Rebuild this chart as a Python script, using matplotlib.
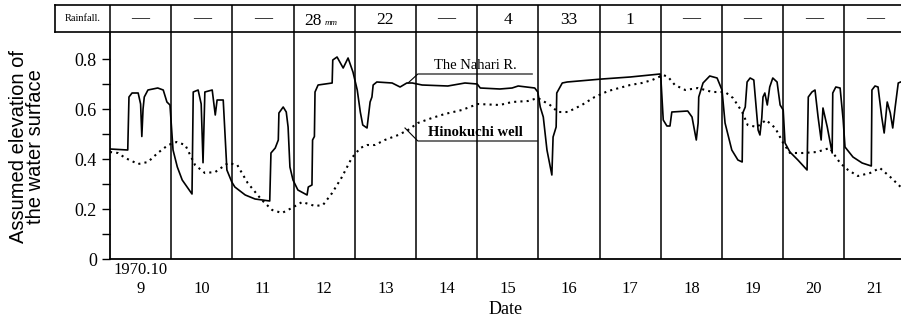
import matplotlib
matplotlib.use("Agg")
import matplotlib.pyplot as plt

# days of October 1970 shown on the chart
days = [9, 10, 11, 12, 13, 14, 15, 16, 17, 18, 19, 20, 21]
rainfall = ["—", "—", "—", "28", "22", "—", "4", "33", "1", "—", "—", "—", "—"]

# The Nahari R. (time in days, elevation)
river_t = [9.00, 9.29, 9.31, 9.36, 9.46, 9.50, 9.52, 9.54, 9.56, 9.62, 9.78, 9.87, 9.93, 9.98,
           10.03, 10.10, 10.18, 10.34, 10.36, 10.44, 10.49, 10.52, 10.55, 10.67, 10.72, 10.75,
           10.85, 10.91, 10.99, 11.04, 11.21, 11.37, 11.61, 11.63, 11.70, 11.75, 11.76, 11.83,
           11.88, 11.91, 11.94, 11.99, 12.07, 12.22, 12.24, 12.30, 12.31, 12.34, 12.35, 12.40,
           12.63, 12.64, 12.71, 12.81, 12.89, 12.97, 13.04, 13.09, 13.13, 13.20, 13.25, 13.28,
           13.30, 13.36, 13.61, 13.74, 13.85, 13.94, 14.10, 14.52, 14.80, 15.00, 15.05, 15.37,
           15.57, 15.67, 15.94, 15.99, 16.03, 16.08, 16.14, 16.22, 16.24, 16.29, 16.30, 16.39,
           16.47, 17.04, 17.50, 17.99, 18.00, 18.04, 18.10, 18.15, 18.18, 18.44, 18.51, 18.58,
           18.61, 18.62, 18.69, 18.80, 18.92, 19.00, 19.05, 19.16, 19.26, 19.33, 19.34, 19.38,
           19.41, 19.46, 19.52, 19.56, 19.59, 19.62, 19.65, 19.67, 19.70, 19.74, 19.78, 19.83,
           19.90, 19.95, 20.00, 20.03, 20.11, 20.24, 20.39, 20.41, 20.47, 20.52, 20.57, 20.62,
           20.65, 20.72, 20.80, 20.81, 20.86, 20.93, 20.96, 20.98, 21.01, 21.14, 21.29, 21.44,
           21.45, 21.50, 21.55, 21.61, 21.65, 21.70, 21.75, 21.79, 21.83, 21.88, 21.92]
river_h = [0.44, 0.436, 0.648, 0.664, 0.664, 0.62, 0.49, 0.60, 0.648, 0.676, 0.684, 0.676, 0.628, 0.616,
           0.436, 0.368, 0.316, 0.26, 0.668, 0.676, 0.62, 0.385, 0.668, 0.676, 0.576, 0.636,
           0.636, 0.356, 0.308, 0.288, 0.256, 0.24, 0.232, 0.424, 0.444, 0.476, 0.584, 0.608,
           0.588, 0.528, 0.368, 0.316, 0.276, 0.256, 0.288, 0.296, 0.476, 0.49, 0.668, 0.696,
           0.704, 0.796, 0.808, 0.764, 0.804, 0.748, 0.676, 0.588, 0.536, 0.524, 0.628, 0.648,
           0.696, 0.708, 0.704, 0.688, 0.704, 0.704, 0.696, 0.692, 0.704, 0.70, 0.684, 0.68,
           0.684, 0.692, 0.684, 0.668, 0.608, 0.568, 0.436, 0.336, 0.488, 0.528, 0.664, 0.704,
           0.708, 0.72, 0.728, 0.74, 0.728, 0.556, 0.532, 0.532, 0.588, 0.592, 0.568, 0.476,
           0.544, 0.648, 0.704, 0.732, 0.724, 0.676, 0.544, 0.436, 0.396, 0.388, 0.584, 0.608,
           0.708, 0.724, 0.716, 0.60, 0.516, 0.496, 0.564, 0.648, 0.664, 0.616, 0.688, 0.724,
           0.708, 0.616, 0.596, 0.464, 0.428, 0.396, 0.356, 0.648, 0.668, 0.676, 0.568, 0.476,
           0.604, 0.528, 0.424, 0.664, 0.688, 0.684, 0.608, 0.556, 0.448, 0.408, 0.384, 0.372,
           0.676, 0.692, 0.688, 0.568, 0.504, 0.628, 0.584, 0.524, 0.608, 0.704, 0.708]

# Hinokuchi well
well_t = [9.00, 9.13, 9.25, 9.46, 9.62, 9.78, 9.95, 10.09, 10.23, 10.39, 10.55, 10.72, 10.93,
          11.08, 11.25, 11.48, 11.65, 11.81, 11.97, 12.14, 12.35, 12.48, 12.63, 12.79, 12.95,
          13.09, 13.20, 13.33, 13.49, 13.71, 13.87, 14.03, 14.26, 14.47, 14.75, 15.01, 15.37,
          15.57, 15.83, 15.99, 16.19, 16.32, 16.48, 16.71, 16.92, 17.14, 17.50, 17.69, 17.86,
          18.04, 18.12, 18.23, 18.40, 18.61, 18.84, 19.05, 19.18, 19.33, 19.42, 19.57, 19.72,
          19.87, 20.00, 20.11, 20.32, 20.55, 20.76, 20.93, 21.06, 21.22, 21.42, 21.58, 21.75, 21.92]
well_h = [0.428, 0.424, 0.404, 0.38, 0.388, 0.424, 0.456, 0.468, 0.456, 0.376, 0.344, 0.348, 0.384,
          0.376, 0.304, 0.236, 0.196, 0.184, 0.204, 0.228, 0.212, 0.216, 0.264, 0.328, 0.404,
          0.444, 0.456, 0.456, 0.476, 0.496, 0.516, 0.544, 0.564, 0.58, 0.596, 0.62, 0.616,
          0.628, 0.632, 0.644, 0.616, 0.588, 0.588, 0.616, 0.648, 0.672, 0.696, 0.704, 0.716,
          0.736, 0.728, 0.696, 0.676, 0.684, 0.668, 0.668, 0.644, 0.588, 0.536, 0.528, 0.556,
          0.524, 0.464, 0.424, 0.424, 0.428, 0.444, 0.384, 0.356, 0.332, 0.344, 0.364, 0.328, 0.288]

serif = "Liberation Serif"
x0, x1 = 9, 21.925

fig = plt.figure(figsize=(9.01, 3.25), dpi=100)
ax = fig.add_axes([110/901, 66/325, 791/901, 227/325])
tax = fig.add_axes([55/901, 293/325, 846/901, 27/325])

# main curves
ax.plot(river_t, river_h, color="black", lw=1.2)
ax.plot(well_t, well_h, color="black", lw=1.5, linestyle=(0, (1, 2.0)))

for d in days[1:]:
    ax.axvline(d, color="black", lw=1.1)

ax.set_xlim(x0, x1)
ax.set_ylim(0, 0.908)
for s in ["top", "right"]:
    ax.spines[s].set_visible(False)
ax.spines["left"].set_linewidth(1.3)
ax.spines["bottom"].set_linewidth(1.3)

ax.set_yticks([0, 0.2, 0.4, 0.6, 0.8])
ax.set_yticklabels(["0", "0.2", "0.4", "0.6", "0.8"], fontfamily=serif, fontsize=13)
ax.set_yticks([0.1, 0.3, 0.5, 0.7], minor=True)
ax.tick_params(axis="y", which="both", direction="out", length=6, width=1)
ax.set_xticks([d + 0.5 for d in days])
ax.set_xticklabels([str(d) for d in days], fontfamily=serif, fontsize=12)
ax.tick_params(axis="x", length=0, pad=16)
ax.text(9.5, -0.045, "1970.10", ha="center", va="center", fontfamily=serif, fontsize=12)
ax.set_xlabel("Date", fontfamily=serif, fontsize=13, labelpad=3)

fig.text(0.03, 0.55, "Assumed elevation of\nthe water surface", rotation=90,
         ha="center", va="center", fontfamily="Liberation Sans", fontsize=14.5, linespacing=0.88)

# labels with leader lines
ax.plot([13.87, 14.03, 15.90], [0.704, 0.74, 0.74], color="black", lw=0.8)
ax.text(14.97, 0.748, "The Nahari R.", ha="center", va="bottom", fontfamily=serif, fontsize=10.5)
ax.plot([13.82, 14.03, 15.98], [0.524, 0.472, 0.472], color="black", lw=0.8)
ax.text(14.97, 0.48, "Hinokuchi well", ha="center", va="bottom", fontfamily=serif,
        fontsize=10.5, fontweight="bold")

# rainfall table
tax.set_xlim(x0 - 55/61.2, x1)
tax.set_ylim(0, 1)
tax.set_xticks([])
tax.set_yticks([])
tax.spines["right"].set_visible(False)
for s in ["top", "bottom", "left"]:
    tax.spines[s].set_linewidth(1.2)
for d in days:
    tax.axvline(d, color="black", lw=1.1)
tax.text(x0 - 27.5/61.2, 0.5, "Rainfall.", ha="center", va="center", fontfamily=serif, fontsize=7.5)
for d, r in zip(days, rainfall):
    if r == "—":
        tax.text(d + 0.5, 0.5, r, ha="center", va="center", fontfamily=serif, fontsize=13)
    elif r == "28":
        tax.text(d + 0.45, 0.42, r, ha="right", va="center", fontfamily=serif, fontsize=12.5)
        tax.text(d + 0.5, 0.35, "mm", ha="left", va="center", fontfamily=serif,
                 fontsize=6.5, style="italic")
    else:
        tax.text(d + 0.5, 0.45, r, ha="center", va="center", fontfamily=serif, fontsize=12.5)

fig.savefig("out.png", dpi=100)
